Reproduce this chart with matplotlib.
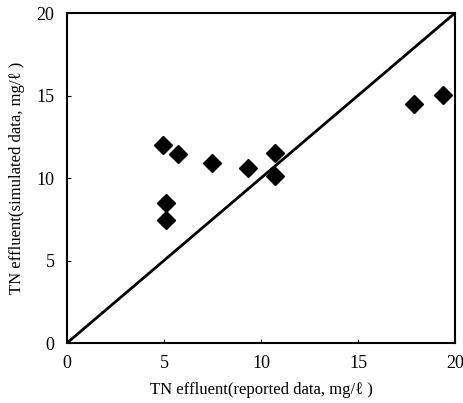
import matplotlib
matplotlib.use("Agg")
import matplotlib.pyplot as plt

# reported vs simulated TN effluent (mg/l)
reported = [4.93, 5.72, 5.10, 5.10, 7.50, 9.32, 10.70, 10.73, 17.87, 19.36]
simulated = [12.0, 11.44, 8.50, 7.45, 10.89, 10.59, 11.50, 10.14, 14.49, 15.04]
ticks = [0, 5, 10, 15, 20]

plt.rcParams['font.family'] = ['Liberation Serif', 'DejaVu Serif']

fig = plt.figure(figsize=(4.64, 4.03), dpi=100)
ax = fig.add_axes([67 / 464, 1 - 343 / 403, 388 / 464, 330 / 403])

ax.plot([0, 20], [0, 20], color='black', lw=2)
ax.plot(reported, simulated, 'D', color='black', ms=9, linestyle='none')

ax.set_xlim(0, 20)
ax.set_ylim(0, 20)
ax.set_xticks(ticks)
ax.set_yticks(ticks)
ax.tick_params(direction='in', length=3, labelsize=13)
ax.tick_params(axis='x', pad=9)
ax.tick_params(axis='y', pad=9)
for s in ax.spines.values():
    s.set_linewidth(1.5)

ax.set_xlabel('TN effluent(reported data, mg/ℓ )', fontsize=12, labelpad=7)
ax.set_ylabel('TN effluent(simulated data, mg/ℓ )', fontsize=12, labelpad=8)

fig.savefig('out.png', dpi=100)
